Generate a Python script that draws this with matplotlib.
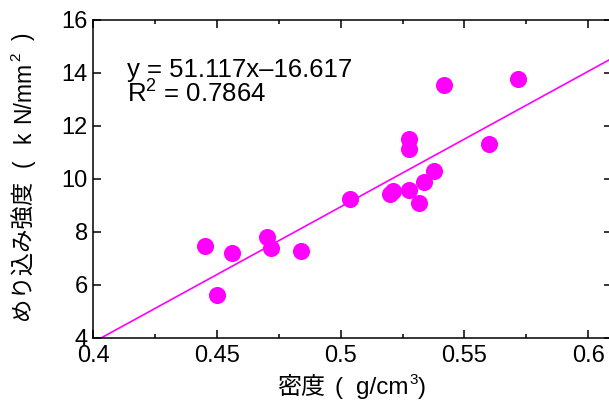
import numpy as np
import matplotlib
matplotlib.use('Agg')
import matplotlib.pyplot as plt
from matplotlib.transforms import IdentityTransform

# density (g/cm3) and embedment strength (kN/mm2)
density = [0.4451, 0.4499, 0.4559, 0.4701, 0.4718, 0.4838, 0.5037, 0.5199,
           0.5212, 0.5277, 0.5277, 0.5277, 0.5317, 0.5337, 0.5378, 0.5418,
           0.5598, 0.5717]
strength = [7.47, 5.62, 7.20, 7.80, 7.38, 7.26, 9.23, 9.42,
            9.55, 11.50, 11.13, 9.58, 9.08, 9.86, 10.28, 13.52,
            11.32, 13.77]

# regression shown on the chart
slope = 51.117
intercept = -16.617
r2 = 0.7864

x_ticks = [0.4, 0.45, 0.5, 0.55, 0.6]
x_tick_labels = ['0.4', '0.45', '0.5', '0.55', '0.6']
y_ticks = [4, 6, 8, 10, 12, 14, 16]

plt.rcParams['font.family'] = ['Liberation Sans', 'Noto Sans CJK JP']
plt.rcParams['mathtext.fontset'] = 'custom'
plt.rcParams['mathtext.rm'] = 'Liberation Sans'
plt.rcParams['mathtext.it'] = 'Liberation Sans'

magenta = '#ff00ff'
H = 412  # figure height in px, label pieces are placed in pixels

fig = plt.figure(figsize=(6.09, 4.12), dpi=100)
ax = fig.add_axes([0.1532, 0.1803, 0.8517, 0.7718])

ax.plot(density, strength, 'o', color=magenta, markersize=12.3, markeredgewidth=0, zorder=3)

xl = np.array([0.4, 0.6096])
ax.plot(xl, slope * xl + intercept, color=magenta, linewidth=1.2, zorder=2)

ax.set_xlim(0.4, 0.6096)
ax.set_ylim(4, 16)
ax.set_xticks(x_ticks)
ax.set_xticklabels(x_tick_labels)
ax.set_xticks([0.425, 0.475, 0.525, 0.575], minor=True)
ax.set_yticks(y_ticks)
ax.set_yticklabels([str(v) for v in y_ticks])

ax.tick_params(which='both', direction='in', top=True, right=True, width=1.1)
ax.tick_params(which='major', length=6, labelsize=17)
ax.tick_params(axis='x', which='major', pad=5)
ax.tick_params(axis='y', which='major', pad=4)
ax.tick_params(which='minor', length=3)
for s in ax.spines.values():
    s.set_linewidth(1.1)

fig.text(126.7 / 609, 1 - 77 / H, 'y = 51.117x\u201316.617', fontsize=18.5,
         ha='left', va='baseline')
fig.text(126.7 / 609, 1 - 103 / H, 'R$^2$ = %.4f' % r2, fontsize=18.5,
         ha='left', va='baseline')


# axis labels mix CJK text and a superscript -> laid out piece by piece
# (mathtext would not fall back to the CJK font)
# each piece: text, size, start (px from left / from top), raise in px
def label_parts(parts, base, rotation=0):
    for s, size, start, rise in parts:
        if rotation == 90:
            x, y = base - rise, H - start
        else:
            x, y = start, H - base + rise
        fig.text(x, y, s, fontsize=size, rotation=rotation, rotation_mode='anchor',
                 ha='left', va='baseline', transform=IdentityTransform())


label_parts([('密度', 17.3, 277, 0), ('(', 17.5, 335, 0), ('g/cm', 17.5, 356, 0),
             ('3', 11, 409.5, 10), (')', 17.5, 418, 0)], base=394)
label_parts([('めり込み強度', 16.8, 320, 0), ('(', 16.5, 167, 0), ('k', 16.5, 143, 0),
             ('N/mm', 16.5, 123, 0), ('2', 11, 61, 9.5), (')', 16.5, 40, 0)],
            base=30, rotation=90)

fig.savefig('out.png', dpi=100)
